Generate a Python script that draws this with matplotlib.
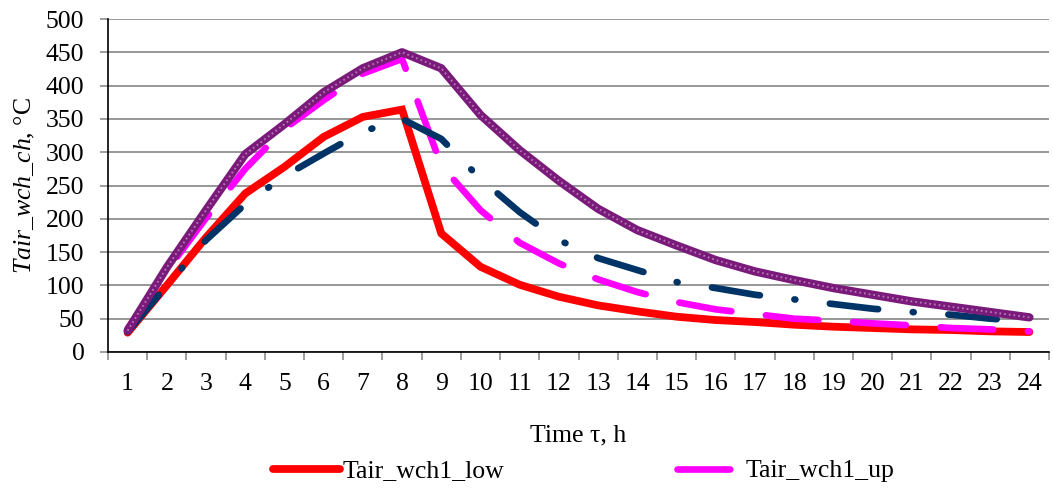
import numpy as np
import matplotlib
matplotlib.use("Agg")
import matplotlib.pyplot as plt

# values
hours = list(range(1, 25))
tair_low = [29, 100, 172, 238, 278, 323, 353, 364, 178, 128, 101, 83,
            70, 61, 53, 48, 45, 41, 38, 36, 34, 33, 31, 30]
tair_up = [35, 122, 201, 275, 335, 378, 418, 440, 280, 213, 164, 133,
           109, 90, 75, 64, 57, 50, 47, 43, 40, 36, 34, 31]
tair_mid = [30, 100, 168, 222, 264, 298, 331, 350, 320, 260, 210, 168,
            141, 123, 105, 96, 86, 79, 72, 65, 60, 56, 50, 46]
tair_max = [32, 127, 213, 297, 342, 390, 426, 450, 426, 356, 303, 257,
            215, 183, 160, 138, 121, 108, 96, 86, 76, 68, 60, 52]
legend_labels = ["Tair_wch1_low", "Tair_wch1_up"]

plt.rcParams['font.family'] = ['Liberation Serif', 'DejaVu Serif']
plt.rcParams['mathtext.fontset'] = 'custom'
plt.rcParams['mathtext.it'] = 'Liberation Serif:italic'
plt.rcParams['mathtext.rm'] = 'Liberation Serif'
plt.rcParams['lines.scale_dashes'] = False

fs = 18.5
fig = plt.figure(figsize=(10.53, 4.91), dpi=100)
ax = fig.add_axes([108 / 1053, 1 - 352 / 491, (1049 - 108) / 1053, (352 - 19) / 491])

x = np.array(hours)
l_low, = ax.plot(x, tair_low, color='#FF0000', lw=5.6, solid_capstyle='round',
                 solid_joinstyle='miter', zorder=3)
l_up, = ax.plot(x, tair_up, color='#FF00FF', lw=4.8, dash_capstyle='round',
                zorder=4)
l_up.set_dashes((38, 25))
l_mid, = ax.plot(x, tair_mid, color='#003366', lw=4.8, dash_capstyle='round',
                 zorder=5)
l_mid.set_dashes((35, 25, 0.7, 25))
# thick purple line with a light dotted texture
ax.plot(x, tair_max, color='#7A1A7A', lw=6.0, solid_capstyle='round', zorder=6)
tex, = ax.plot(x, tair_max, color='#B678B6', lw=1.4, zorder=7)
tex.set_dashes((1.2, 2.2))

ax.set_xlim(0.5, 24.5)
ax.set_ylim(0, 500)
ax.set_yticks(np.arange(0, 501, 50))
ax.set_xticks(x)
ax.set_xticks(np.arange(0.5, 25, 1), minor=True)
ax.tick_params(axis='x', which='major', length=0, pad=15, labelsize=fs)
ax.tick_params(axis='x', which='minor', length=6, width=1.2, color='#8c8c8c',
               direction='out')
ax.tick_params(axis='y', length=6, width=1.2, color='#8c8c8c', pad=11,
               labelsize=fs)
ax.grid(axis='y', color='#7a7a7a', lw=1.1)
ax.set_axisbelow(True)
for s in ['top', 'right']:
    ax.spines[s].set_visible(False)
for s in ['left', 'bottom']:
    ax.spines[s].set_color('black')
    ax.spines[s].set_linewidth(1.2)

ax.set_xlabel("Time τ, h", fontsize=fs, labelpad=21)
ax.set_ylabel(r"$\it{Tair\_wch\_ch}$, °C", fontsize=fs, labelpad=6)

fig.legend([l_low, l_up], legend_labels, loc='center', ncol=2,
           bbox_to_anchor=(584 / 1053, 1 - 471 / 491), frameon=False,
           fontsize=fs, handlelength=2.6, handletextpad=0.1,
           columnspacing=6.7)

fig.savefig("out.png", dpi=100)
